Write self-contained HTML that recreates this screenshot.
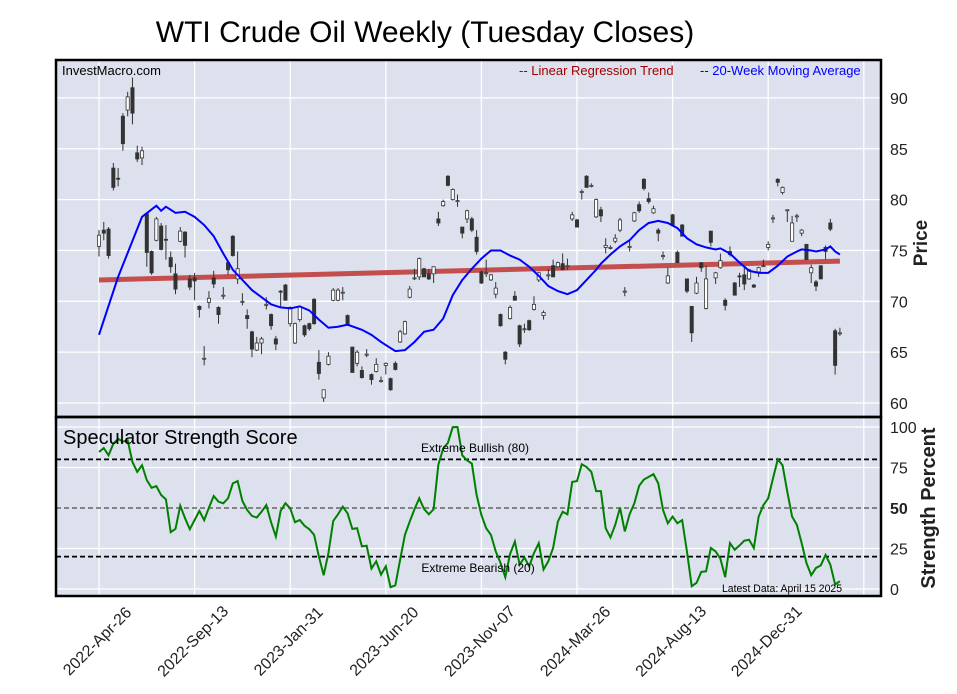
<!DOCTYPE html>
<html><head><meta charset="utf-8"><style>
html,body{margin:0;padding:0;background:#fff;}
svg{display:block;font-family:"Liberation Sans",Arial,sans-serif;}
</style></head><body>
<svg id="chart" width="957" height="694" viewBox="0 0 957 694" xmlns="http://www.w3.org/2000/svg">
<text x="425" y="42" font-size="30" text-anchor="middle" fill="#000">WTI Crude Oil Weekly (Tuesday Closes)</text>
<rect x="56" y="60" width="825" height="357" fill="#dce1ed"/>
<rect x="56" y="417" width="825" height="179" fill="#dce1ed"/>
<g id="grid"></g>
<g id="strengthRefs"></g>
<g id="trend"></g>
<g id="candles"></g>
<g id="ma"></g>
<g id="strength"></g>
<rect x="56" y="60" width="825" height="357" fill="none" stroke="#000" stroke-width="2.5"/>
<rect x="56" y="417" width="825" height="179" fill="none" stroke="#000" stroke-width="2.5"/>
<text x="62" y="75" font-size="13" fill="#000">InvestMacro.com</text>
<text x="519" y="75" font-size="13" fill="#a00000">-- Linear Regression Trend</text>
<text x="700" y="75" font-size="13" fill="#0000ff">-- 20-Week Moving Average</text>
<text x="63" y="444" font-size="20" fill="#000">Speculator Strength Score</text>
<text x="475" y="452" font-size="12" text-anchor="middle" fill="#000">Extreme Bullish (80)</text>
<text x="478" y="572" font-size="12" text-anchor="middle" fill="#000">Extreme Bearish (20)</text>
<text x="782" y="592" font-size="11" text-anchor="middle" fill="#000" textLength="120" lengthAdjust="spacingAndGlyphs">Latest Data: April 15 2025</text>
<text transform="translate(927,243) rotate(-90)" font-size="19" font-weight="bold" text-anchor="middle" fill="#222">Price</text>
<text transform="translate(935,508) rotate(-90)" font-size="20" font-weight="bold" text-anchor="middle" fill="#222">Strength Percent</text>
<g id="axes"></g>
</svg>
<script>
const opens=[75.4,77.0,77.1,83.1,82.1,88.2,88.8,91.0,84.6,84.1,78.6,74.9,76.0,77.4,76.1,74.3,72.7,75.9,76.8,72.2,72.3,69.5,64.4,69.9,72.3,69.4,70.6,73.8,76.4,72.2,70.0,68.6,67.0,65.2,65.9,69.6,68.7,66.3,71.0,71.6,67.8,65.9,68.2,67.6,67.8,70.2,64.0,60.5,63.8,70.1,70.1,70.9,68.6,65.5,63.9,63.2,64.8,62.8,63.1,62.2,63.7,62.4,63.9,66.0,66.8,70.4,72.3,72.4,73.2,72.7,72.7,78.1,79.4,82.3,80.0,79.9,77.3,78.1,78.1,76.3,72.9,72.8,72.1,70.7,68.7,65.0,68.3,70.5,67.6,67.3,68.1,69.2,72.1,68.6,72.6,73.5,73.4,73.7,73.5,78.1,78.0,80.8,82.3,81.4,78.3,79.0,75.3,75.3,75.9,77.0,71.0,75.4,77.9,79.5,82.0,80.1,78.7,77.0,74.5,71.8,78.5,74.8,77.5,72.2,69.5,70.8,73.8,69.3,76.9,72.3,73.3,70.1,74.9,71.8,72.5,72.6,72.2,71.6,72.9,73.5,75.3,78.2,82.0,80.7,79.0,75.9,78.4,76.7,75.6,72.8,71.9,73.5,75.3,77.7,67.1,66.9];
const highs=[77.0,77.8,77.3,83.6,83.1,88.5,90.6,92.0,85.3,85.2,78.7,75.0,78.3,77.7,77.5,74.9,73.7,77.3,76.9,72.6,72.8,69.6,65.6,71.0,73.0,69.5,71.4,73.9,76.5,74.9,70.8,69.2,67.1,66.5,66.5,70.4,68.8,66.6,71.1,71.7,69.5,67.9,69.6,67.7,67.9,70.3,65.2,61.3,65.0,71.3,71.3,71.4,68.7,65.5,65.2,63.6,65.3,62.9,64.4,62.6,64.0,62.5,64.1,67.2,68.1,71.5,73.2,74.3,73.3,73.2,73.4,78.8,80.0,82.4,81.1,80.5,77.3,79.0,78.3,77.0,73.0,74.1,72.7,71.9,68.8,65.1,69.6,71.0,67.7,67.8,68.2,70.5,72.9,69.1,73.2,74.1,73.9,74.7,74.2,78.8,78.1,81.0,82.4,81.6,80.1,79.3,76.2,75.5,76.6,78.2,71.4,76.0,78.8,79.8,82.1,80.7,79.4,77.2,74.9,73.3,78.6,75.0,77.6,72.2,69.5,72.4,73.8,73.5,76.9,72.9,74.7,70.3,75.4,71.9,72.8,73.4,73.2,71.7,73.4,74.1,75.9,78.5,82.1,81.3,79.0,78.4,78.6,77.1,75.6,73.6,72.1,73.5,75.5,78.1,67.3,67.4];
const lows=[74.4,76.0,74.2,80.9,81.3,84.8,88.2,87.4,83.7,83.4,73.4,72.6,75.9,75.0,74.1,72.8,70.7,75.8,74.3,71.1,70.1,68.4,63.7,69.3,71.3,67.8,70.2,72.6,74.4,71.7,69.6,67.3,64.5,65.1,64.8,69.2,67.2,65.2,69.5,70.1,67.5,65.8,68.0,66.5,67.1,67.7,62.3,60.1,63.7,70.0,70.0,70.1,67.6,63.0,63.6,62.4,64.5,61.8,63.0,62.0,62.8,61.2,63.2,65.9,66.7,70.3,72.1,72.1,72.4,72.1,71.8,77.4,79.3,81.3,79.9,79.3,76.2,77.7,76.8,74.6,71.7,72.4,72.0,70.3,67.5,63.8,68.2,70.1,65.5,66.9,67.1,69.1,71.9,68.2,72.1,72.4,73.3,73.1,73.1,77.9,77.3,80.0,81.2,81.2,78.2,77.8,74.7,75.1,75.7,76.8,70.5,74.9,77.8,78.7,80.9,79.6,78.6,75.9,74.1,71.7,77.5,73.8,76.4,70.8,66.0,70.7,72.9,69.2,75.4,71.7,73.2,69.1,74.4,70.6,71.4,71.1,72.1,71.3,72.4,73.4,75.0,77.7,81.3,80.5,77.8,75.9,77.8,76.4,74.1,71.8,71.0,72.2,74.1,76.9,62.8,66.6];
const closes=[76.5,76.7,74.5,81.2,82.0,85.5,90.1,88.5,84.0,84.8,74.8,72.8,78.1,75.1,76.0,73.4,71.2,76.9,75.5,71.4,72.0,69.2,64.4,70.3,71.7,68.7,70.6,73.1,74.5,73.2,70.0,68.3,65.3,65.9,66.3,69.7,67.6,65.8,70.9,70.1,69.4,67.8,69.5,66.7,67.3,67.8,62.9,61.3,64.6,71.1,71.1,70.9,67.7,63.0,65.0,62.5,64.8,62.3,63.8,62.2,63.9,61.3,63.3,67.0,68.0,71.2,72.3,74.2,72.4,72.2,73.4,77.7,79.8,81.4,81.0,79.9,76.7,78.9,77.0,74.9,71.8,72.8,72.6,71.3,67.6,64.3,69.4,70.1,65.8,67.3,67.2,69.7,72.8,68.9,72.6,72.4,73.8,73.1,73.5,78.5,77.3,80.8,81.2,81.4,80.0,78.4,75.5,75.3,76.2,78.0,71.0,75.4,78.7,78.9,81.1,79.8,79.1,76.7,74.5,72.5,77.5,73.8,76.4,71.0,66.9,71.8,73.3,72.2,75.8,72.8,74.0,69.6,74.6,70.6,72.4,71.7,73.1,71.4,73.3,73.5,75.6,78.2,81.7,81.2,79.0,77.7,78.4,77.0,74.1,73.3,71.5,72.2,74.9,77.1,63.7,66.9];
const maWeeks=[0,4,9,12,13,14,16,18,20,22,24,26,28,30,32,34,36,38,40,42,44,46,48,50,52,55,57,59,61,62,64,66,68,70,72,74,76,78,80,82,84,86,88,90,92,94,96,98,100,102,104,105,107,109,111,113,115,117,119,121,123,125,127,129,130,132,134,136,138,140,142,144,146,147,149,150,152,153,154,155];
const maValues=[66.7,72.4,78.3,79.4,78.9,79.3,78.7,78.8,78.3,77.5,76.4,74.7,73.1,72.1,71.1,70.4,69.7,69.4,69.3,69.5,69.1,68.2,67.4,67.5,67.7,67.2,66.7,66.0,65.4,65.1,65.2,66.0,67.0,67.2,68.3,70.6,72.1,73.2,74.2,75.0,75.0,74.5,74.1,73.4,72.5,71.5,71.0,70.7,71.1,72.1,73.1,73.7,74.6,75.4,76.0,77.0,77.7,77.9,77.7,77.2,76.2,75.6,75.3,75.1,75.2,74.7,73.8,73.0,72.8,72.8,73.5,74.4,74.9,75.1,75.0,74.9,75.1,75.4,74.9,74.6];
const trendStart=72.1;
const trendEnd=73.95;
const strengthValues=[84.6,87,82.5,89.7,92.7,91,91.7,78.4,72.3,76.4,67.2,62.5,63.5,58,55.3,35.1,37.1,51.4,43.7,36.9,42.6,48.2,42.5,50.2,57.4,53.9,52.9,56,65.2,66.6,54.3,48.8,45.1,44.1,47.7,51.8,41.2,32.4,48.2,52.9,49.8,41.2,42.6,39,36.9,33.4,20.1,8.5,22.2,42,46.1,50.8,46.7,37.1,37.5,26.3,26.7,12.6,17.1,8.9,14,1.1,2.3,18.1,33.4,41.6,49.2,56,49.4,46.1,49.2,76.8,86.6,90.3,99.9,100,82.5,79.4,77.4,58,45.7,37.5,33.4,23.2,16.1,7.3,21.6,29.3,15,19.5,14,22.2,28.3,12,17.1,25.3,41.6,47.7,46.1,66.1,66.6,77,75.3,72.3,60.4,60.4,37.5,31.8,39.6,50.2,35.5,46.1,52.9,63.7,67.6,69.2,70.9,65.2,48.8,40.6,44.7,40.6,42.5,23.2,1.7,3.8,10.6,10.9,25.3,23.2,18.7,7.3,28.3,24.2,26.9,29.8,30.4,25.3,44.7,51.8,56,68.2,80,76.4,60,44.7,39.6,28.3,16.1,8.5,13,14.6,21,15,2.8,4.8];
const xTickLabels=["2022-Apr-26","2022-Sep-13","2023-Jan-31","2023-Jun-20","2023-Nov-07","2024-Mar-26","2024-Aug-13","2024-Dec-31"];
const priceTicks=[60,65,70,75,80,85,90];
const strengthTicks=[0,25,50,75,100];

const NS="http://www.w3.org/2000/svg";
const xOf=i=>99+i*4.78;
const yP=p=>403-(p-60)*10.17;
const yS=v=>589-v*1.62;
function mk(parent,tag,attrs){const e=document.createElementNS(NS,tag);for(const k in attrs)e.setAttribute(k,attrs[k]);document.getElementById(parent).appendChild(e);return e;}

for(let t=0;t<=8;t++){
  const x=xOf(t*20);
  let g1=mk('grid','line',{x1:x,x2:x,y1:60,y2:417,stroke:'#fff','stroke-width':1.3});
  
  
  let g2=mk('grid','line',{x1:x,x2:x,y1:417,y2:596,stroke:'#fff','stroke-width':1.3});
  
  
}
priceTicks.forEach(p=>{
  let g=mk('grid','line',{x1:56,x2:881,y1:yP(p),y2:yP(p),stroke:'#fff','stroke-width':1.3});
  
  
  let t=mk('axes','text',{x:890,y:yP(p)+6,'font-size':16,fill:'#222'});
  t.textContent=p;
  
  
});
strengthTicks.forEach(v=>{
  if(v!==50){let g=mk('grid','line',{x1:56,x2:881,y1:yS(v),y2:yS(v),stroke:'#fff','stroke-width':1.3});
  
  }
  let t=mk('axes','text',{x:890,y:yS(v)+6,'font-size':16,fill:'#222','font-weight':v===50?'bold':'normal'});
  t.textContent=v;
  
  
});
xTickLabels.forEach((lab,k)=>{
  const x=xOf(k*20);
  let t=mk('axes','text',{transform:`translate(${x-2},641) rotate(-45)`,'font-size':16,'text-anchor':'middle',dy:'0.35em',fill:'#222'});
  t.textContent=lab;
  
  
});
[[80,'#000'],[50,'#777'],[20,'#000']].forEach(([v,c])=>{
  let l=mk('strengthRefs','line',{x1:56,x2:881,y1:yS(v),y2:yS(v),stroke:c,'stroke-width':1.8,'stroke-dasharray':'5,3'});
  
  
});
const n=closes.length;
let tr=mk('trend','line',{x1:xOf(0),y1:yP(trendStart),x2:xOf(n-1),y2:yP(trendEnd),stroke:'#c44e4e','stroke-width':5});


for(let i=0;i<n;i++){
  const x=xOf(i),o=opens[i],c=closes[i];
  let w=mk('candles','line',{x1:x,x2:x,y1:yP(highs[i]),y2:yP(lows[i]),stroke:'#333','stroke-width':1});
  
  
  const top=yP(Math.max(o,c)),bot=yP(Math.min(o,c));
  let b=mk('candles','rect',{x:x-1.6,y:top,width:3.2,height:Math.max(bot-top,1),fill:c>=o?'#fff':'#333',stroke:'#333','stroke-width':0.8});
  
  
}
let ma=mk('ma','polyline',{points:maWeeks.map((w,k)=>xOf(w)+','+yP(maValues[k])).join(' '),fill:'none',stroke:'#0000ff','stroke-width':2});


let sl=mk('strength','polyline',{points:strengthValues.map((v,i)=>xOf(i)+','+yS(v)).join(' '),fill:'none',stroke:'#008000','stroke-width':2});


</script>
</body></html>
